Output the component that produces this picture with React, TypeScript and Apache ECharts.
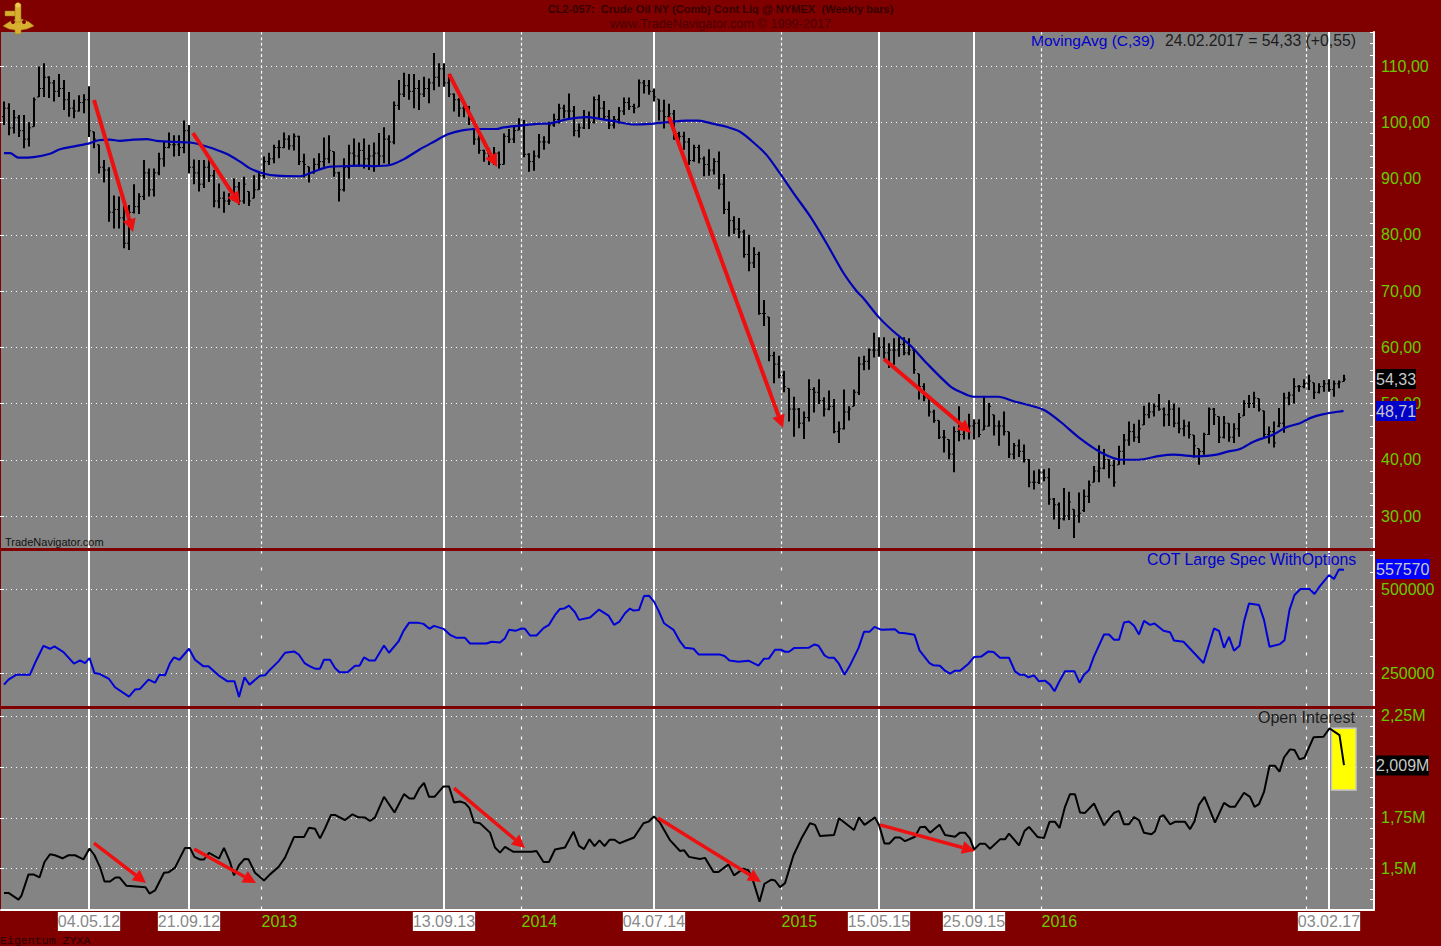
import React, { useEffect, useRef } from "react";
import * as echarts from "echarts";

const SERIES_START = Date.UTC(2012, 0, 6);
const WEEK_MS = 7 * 24 * 3600 * 1000;
const weekOf = (y: number, m: number, d: number) => (Date.UTC(y, m - 1, d) - SERIES_START) / WEEK_MS;

const highs = [103.7,103.4,102.2,101.3,101.3,100,104.4,109.9,110.5,108.2,107.5,108.6,107.5,105.4,104,104.8,105,106.4,98.3,96,93.3,92,87,86.8,85.5,85.3,89,87.4,93.3,91.8,91.8,94.6,96.5,98.2,97.7,97.7,100.3,99.5,93.4,93.3,93.3,93.6,91.5,89.1,87.7,87.4,90,89.4,90.3,87.7,90.6,91,93.9,94.6,96,96.8,98.2,97.7,98,97.6,94.4,92.1,93.6,94.5,97.3,97.7,94.8,91.2,93.6,96,97.1,96.4,97.1,96,96.4,98.1,99.1,97.7,103.7,107.5,108.8,108.6,108.6,107.5,108.1,107.8,112.3,110.5,110.5,108.6,105.1,104.3,103.4,102.9,98.9,97.7,95.1,95.4,95.6,94.8,98,98.8,99.5,100.7,100.4,94.5,95,97.9,97.5,100.1,101.5,103.3,103.1,105.1,102.9,99.8,102.2,101.9,104.6,104.9,103.8,102.2,101.1,102.7,104.4,104.4,103.3,107.6,107.5,107.5,106,104.1,104,103.3,102.2,98.3,98.3,97.2,96,96,93.9,95.2,93.6,94.8,90.8,85.9,83.3,83,80.9,80,77.8,77,68.4,65.4,59.2,58.5,55.8,52.7,51.2,49.2,48.6,54.3,52.9,54.3,51.1,52.3,50.8,46.8,52.5,49.5,52.5,58.3,58.5,59.8,62.6,61.8,61.8,60.7,61.6,61.8,61.8,61.6,59.5,55.3,53.6,50.9,48.9,47,45.3,43.6,45.9,49.5,46.5,48.2,47.2,47.2,51.1,50.1,48,47,48.6,45,43,43.6,42.7,40.1,38.1,38.3,38.3,38.5,33.2,32.4,35,34.3,31.2,34.2,34.7,36.3,38.9,42.6,41.9,40.1,40,42.5,44.6,46.8,46.4,47.1,49.6,50.2,50,51.7,49.3,50.6,50,49.3,47.1,46.8,44.4,42,44.8,49.3,49.2,47.7,47.8,46.5,46.5,48.3,50.6,51.5,52.1,50.9,48.7,45.9,46.8,49.2,51.9,52.1,54.5,53.3,54.3,55.1,53.7,53.6,54.2,54.3,54.1,54.1,55.1];
const lows = [99.5,97.7,98,97.4,95.4,95.7,99.2,104.5,104.5,104.3,103.7,104.5,102.2,101,100.7,101.9,101.6,97.4,95.4,90.9,89.3,82.3,81.1,81.1,77.6,77.3,83.8,83.7,86.2,86.8,86.8,90.6,92.1,95.4,93.9,94,94.5,90.9,89,87.7,88.3,89.4,84.9,84.7,83.9,85.3,86.2,85.3,85.5,85.1,86.5,88,90,92.4,92.7,93.6,95.4,95.1,95,92.4,90.2,89.3,90.9,91.5,92.1,92.7,90.3,85.9,87.7,90,92.4,92.1,91.8,91.5,91.2,92.4,92.7,92.6,96.1,102.2,104.5,104,102.5,102.2,104.5,103.4,105.7,106.3,106.3,104.5,101.9,101,100.9,99.5,96,94.4,93,92.4,92.4,91.8,92.5,96.3,96.3,98.6,93.8,91.2,91.4,93.6,95.1,96.2,99.2,99.8,100.7,100.4,97.5,97.3,98.8,98.8,99.8,100.7,100.4,98.8,98.9,99.8,101.3,102.2,101.6,102.7,105.1,104.9,103.7,100.3,98.9,99.8,96.9,95.7,95.1,92.4,93,92.7,90.4,90.5,90.7,88.1,83.7,79.7,80.2,79.4,75.9,73.5,74.1,65.8,63.8,57.5,53.6,54.5,52,46.8,44.1,45.6,43.7,46.8,48.4,49.9,47.7,48.8,44.7,43,45.4,47,49.5,51.5,55.9,56,58.2,58.3,58,56.3,56.9,58.3,58.6,58.6,55.3,50.7,50.4,47.7,46.6,43.7,41.3,40.1,37.8,43.3,43.6,43.6,43.6,44,45.3,45.9,44.3,42.5,44.3,40.3,40.1,40.5,39.5,35.1,34.7,35.7,36.2,32,29.4,27.7,29.2,29.3,26.1,28.8,30.7,32.3,36,36,38.3,36.7,35.2,39.1,39.1,42.5,43.2,43,46.2,47.4,47.7,48.7,45.9,46,45.8,44.7,44.2,43.8,40.4,39.1,40.9,44.4,46.2,43,43.8,43.2,43,44.1,47.8,49.2,49.2,48.6,43.8,42.9,42.2,45.8,44.8,49.7,50,52.1,52.7,52.4,50.8,51.8,52.1,52.1,51.2,52.7,53.9];
const closes = [102.5,99,100.8,98.5,97,99,104,106,108,107,105.5,106,104,102.5,102,103.5,104,98.5,97,92,91.5,84,84.5,83,78.5,84,85,86.8,91,88,91,93.5,95.5,96,96,95.5,98.5,92,91,89,92,90.5,86,86.5,86,86,88.5,86,89,86,88,90.5,93,93.5,95.5,95.5,97,95.8,97.5,93,92.5,91,92.5,93,93.5,95,91,88,92,94.5,94,95,93.5,94,94.5,94,97,96.5,103,105,106.5,105.5,106,105,106,107,108,109.5,107,105,104,102.5,102.5,100.5,97,95,94.5,93,94.5,92.5,97.5,97,98.5,99.5,94.3,93,94,96.5,96.5,99.5,100.5,102.5,102,102,98.5,99,101,100,104,102.5,101,99.5,100.5,102,103.5,102.8,102.5,107,106.5,105.5,104.5,102,101,101.5,98,97.5,96.5,93.2,95.5,93.5,92.5,91.5,93,89,84.5,82.5,81,80.5,76.5,75,76.5,66,66,58.5,57,55,53,49,49,46.5,47.5,52.5,52,50.5,49,49.5,45,45.5,48.5,49,52,57,57.5,59.5,59.5,60,59,59.5,59.5,60.5,59,59.5,56,53,51,48.5,47,44,44,41,45,44.5,45.5,46,46.5,44.5,46,49.5,46,46,45,41,42.5,41.5,40,36,36,37.8,36.8,33,32,29.5,30,32.5,30,30.5,33.5,35.5,38,38.5,40,39,36,41.5,43.5,45,44,45.5,48,48.5,49.5,49,48,49,46.5,45.5,46,44.5,42.5,41.5,44.5,49,48,44,46.5,44,45.5,47.5,50,50,51,49,44.5,45,43,46.5,51,51.5,53,53,53.5,54,52,53,53.5,52.5,53.5,53.8,54.33];
const opens = [101,102.5,99,100.8,98.5,97,99.2,104.5,106,108,107,105.5,106,104,102.5,102,103.5,104,98.3,96,92,91.5,84,84.5,83,78.5,84,85,86.8,91,88,91,93.5,95.5,96,96,95.5,98.5,92,91,89,92,90.5,86,86.5,86,86.2,88.5,86,87.7,86.5,88,90.5,93,93.5,95.5,95.5,97,95.8,97.5,93,92.1,91,92.5,93,93.5,94.8,91,88,92,94.5,94,95,93.5,94,94.5,94,97,96.5,103,105,106.5,105.5,106,105,106,107,108,109.5,107,105,104,102.5,102.5,98.9,97,95,94.5,93,94.5,92.5,97.5,97,98.6,99.5,94.3,93,94,96.5,96.5,99.5,100.5,102.5,102,102,98.5,99,101,100,104,102.5,101,99.5,100.5,102,103.5,102.8,102.7,107,106.5,105.5,104.1,102,101,101.5,98,97.5,96.5,93.2,95.5,93.5,92.5,91.5,93,89,84.5,82.5,81,80.5,76.5,75,76.5,66,65.4,58.5,57,55,52.7,49,49,46.5,47.5,52.5,52,50.5,49,49.5,45,45.5,48.5,49.5,52,57,57.5,59.5,59.5,60,59,59.5,59.5,60.5,59,59.5,55.3,53,50.9,48.5,47,44,43.6,41,45,44.5,45.5,46,46.5,45.3,46,48,46,46,45,41,42.5,41.5,40,36,36,37.8,36.8,33,32,29.5,30,31.2,30,31,33.5,36,38,38.5,40,39,39.1,41.5,43.5,45,44,46.2,48,48.5,49.5,49,48,49,46.5,45.5,46,44.4,42,41.5,44.5,49,47.7,44,46.5,44,45.5,47.8,50,50,50.9,48.7,44.5,45,46,46.5,51,51.5,53,53,53.5,53.7,52,53,53.5,52.5,53.5,53.9];

const movingAvg = [[0,94.5],[1.2,94.5],[2.9,93.7],[5.9,93.8],[9.2,94.4],[11.2,95.2],[14.5,95.8],[17.2,96.3],[18.9,96.8],[21.2,96.9],[23.2,96.7],[25.9,96.9],[28.5,97],[30.5,96.7],[33.9,96.5],[37.2,96.4],[40.5,95.7],[44.5,94.4],[47.2,93],[49.2,91.8],[51.9,90.9],[54.5,90.5],[59.2,90.4],[61.9,91.2],[65.2,92.1],[68.5,92.2],[71.2,92.3],[73.9,92.2],[77.2,92.4],[79.9,93.4],[83.2,95.2],[85.9,96.5],[88.9,97.9],[91.9,98.6],[95.2,98.8],[98.5,98.8],[99.9,99.1],[103.2,99.4],[106.5,99.7],[109.2,99.8],[112.5,100.5],[116.5,100.9],[119.2,100.6],[122.5,100.1],[125.9,99.6],[129.2,99.7],[132.5,100],[136.5,100.3],[138.9,100.3],[141.9,99.7],[144.5,99.2],[147.2,98.3],[149.9,96.4],[152.5,94.2],[155.2,90.9],[157.9,87.4],[161.2,83.3],[164.5,78.5],[167.9,73.2],[170.5,70],[171.8,68.8],[174.9,65.4],[177.9,62.8],[181.2,60.4],[184.5,57.2],[189.2,53.1],[191.2,52.1],[193.9,51.2],[198.9,51.2],[201.9,50.4],[207.9,48.9],[211.2,46.8],[215.2,43.8],[219.2,41.4],[223.5,40],[226.8,40],[231.2,40.7],[233.9,40.9],[238.9,40.6],[242.5,40.9],[244.5,41.4],[247.2,41.9],[249.9,43.2],[253.9,44.5],[256.5,45.8],[259.2,46.5],[261.2,47.4],[263.9,48.1],[267.9,48.7],[268,48.71]];

const cotLargeSpec = [[0,215400],[0.9,230200],[2.5,245100],[5.2,245100],[6.2,279600],[7.9,331000],[9.2,322100],[10.1,329000],[11.9,312200],[14,277700],[15.2,287500],[16.2,279600],[17.1,294500],[18.1,250000],[19.2,247000],[21,232200],[22.2,207500],[25,179900],[26.2,200600],[27.2,202600],[28.9,230200],[30.2,221300],[31.1,245100],[32.2,243100],[33.2,279600],[34,296400],[35.1,289500],[37,322100],[38.2,289500],[39.9,269800],[40.9,269800],[42.9,243100],[44.7,225300],[46.1,225300],[47,178900],[48.1,237200],[49.1,215400],[51.2,242100],[52.2,243100],[53.2,259900],[54.9,284600],[56.2,310300],[58,314200],[59,304300],[60.1,279600],[61.2,269800],[62.2,262800],[63.2,262800],[64,289500],[65.2,289500],[66.2,264800],[67.1,252000],[68.7,252000],[70.2,271700],[71.1,271700],[72,296400],[73,287500],[74.2,287500],[76,332000],[77,310300],[78.9,343900],[79.9,375500],[81,399200],[82.9,399200],[83.9,396200],[85.1,381400],[86,390300],[87.9,381400],[89.2,363600],[90.5,354700],[92.2,354700],[93.2,337900],[95.2,337900],[96.5,337900],[97.5,342900],[99.2,340900],[100.2,353700],[101,378400],[102.3,375500],[103.5,382400],[104.2,381400],[105.2,361600],[106.5,361600],[107.9,383400],[109,393300],[110.2,422900],[111.2,440700],[112,441700],[113,450600],[114.2,430800],[115,408100],[117.2,415000],[119,438700],[120.9,420900],[122,393300],[123.1,403100],[124.2,427800],[125.2,441700],[125.9,435700],[127,437700],[128,479200],[129,480200],[130,462400],[131,432800],[132,398200],[133.9,378400],[135.2,343900],[136.2,325100],[137.9,322100],[138.9,305300],[143.1,305300],[144.1,300400],[145.1,287500],[146.9,283600],[148.9,286600],[150.9,271700],[152,292500],[153,293500],[154.2,319200],[155.4,319200],[156.2,313200],[157,313200],[158,324100],[160.9,325100],[162.1,335000],[162.9,331000],[164.1,302400],[164.9,295400],[166,295400],[166.9,279600],[168.1,245100],[169.1,269800],[170.9,324100],[172,372500],[173.1,372500],[174.1,387300],[175.5,378400],[178.2,380400],[179,369500],[180.2,368600],[182.1,363600],[183.1,317200],[185.1,279600],[185.9,272700],[187.2,271700],[188.2,256900],[189.2,248000],[190.2,256900],[191.2,256900],[192.9,277700],[194,297400],[195.5,299400],[196.9,314200],[197.9,312200],[199.2,295400],[201,295400],[202.2,254900],[203.1,245100],[204,245100],[204.9,237200],[206,243100],[207,225300],[208.2,227300],[209.2,215400],[210.1,195700],[211,223300],[212.2,254900],[214.1,254900],[215.1,221300],[216,245100],[217,258900],[218,299400],[220,364600],[221,364600],[222,348800],[223,348800],[224,400200],[225,403100],[226,390300],[227,364600],[228,405100],[229.2,393300],[230.1,397200],[231.9,375500],[233.2,371500],[234,346800],[235.9,342900],[239.9,279600],[242,382400],[243,375500],[244,325100],[245,357700],[246,316200],[247.1,331000],[248,403100],[249,456500],[251,452500],[252,408100],[253.1,328100],[255.2,336000],[256.1,347800],[257.1,437700],[258.1,482200],[259.3,500000],[261.1,500000],[262.1,485100],[263.1,506900],[265,541500],[266,529600],[267,558300],[268,557570]];

const openInterest = [[0,1.381],[0.9,1.381],[2.9,1.348],[3.5,1.368],[4.9,1.472],[5.9,1.472],[7.1,1.457],[8.1,1.533],[9.2,1.571],[10.2,1.566],[11.7,1.551],[12.9,1.566],[14.2,1.566],[15.9,1.546],[17.1,1.599],[18.1,1.566],[19.2,1.508],[20.1,1.437],[21.2,1.437],[22.3,1.457],[23.1,1.457],[24.5,1.416],[28.3,1.409],[29.1,1.378],[30.2,1.393],[32,1.48],[32.9,1.482],[34.2,1.505],[36.2,1.602],[37.2,1.602],[38.1,1.558],[39.2,1.545],[40,1.545],[41,1.578],[43,1.55],[44,1.602],[45.2,1.533],[46,1.467],[47,1.517],[48.1,1.548],[48.9,1.546],[50.2,1.48],[52,1.442],[53.2,1.472],[54.9,1.508],[56.2,1.554],[58,1.655],[60,1.655],[61,1.701],[62.2,1.696],[63.2,1.649],[64.2,1.698],[65.4,1.764],[66.2,1.764],[68.2,1.739],[69.7,1.767],[70.9,1.752],[72.2,1.751],[73.2,1.734],[74.2,1.752],[76,1.853],[78.1,1.776],[80,1.866],[81.1,1.845],[82,1.845],[83.1,1.896],[84,1.921],[85,1.853],[86.1,1.853],[87.9,1.904],[89,1.904],[90,1.825],[91.2,1.83],[92.2,1.822],[93.1,1.797],[94,1.728],[95.2,1.723],[97.2,1.677],[98.2,1.604],[99.2,1.579],[100.2,1.607],[101.9,1.583],[105.5,1.583],[106.5,1.587],[107.9,1.533],[109,1.533],[110.2,1.594],[112.2,1.604],[113.9,1.682],[115,1.612],[116,1.596],[117.1,1.644],[118.1,1.611],[119.1,1.639],[120.1,1.611],[121.1,1.642],[122.1,1.642],[123.1,1.625],[126,1.653],[127.9,1.723],[128.9,1.731],[130,1.756],[131.2,1.726],[133.2,1.64],[135.2,1.587],[136,1.591],[137,1.558],[139.2,1.548],[140.2,1.553],[141.9,1.484],[142.9,1.484],[144.9,1.521],[146,1.467],[147.9,1.5],[148.9,1.492],[149.9,1.434],[151.1,1.338],[152.1,1.426],[153.5,1.446],[154.2,1.442],[155.2,1.409],[156.2,1.429],[157.9,1.566],[159.5,1.649],[161.2,1.723],[162.2,1.715],[163.2,1.66],[166,1.665],[167,1.748],[170,1.69],[171,1.752],[172.1,1.715],[174.2,1.752],[175,1.715],[176.1,1.624],[177.1,1.624],[178.2,1.653],[179.2,1.653],[180.2,1.635],[182.2,1.657],[183.2,1.703],[184.2,1.706],[185.2,1.677],[187.1,1.716],[188.2,1.665],[190.2,1.657],[191.2,1.677],[192.2,1.677],[193.2,1.648],[194,1.594],[195.2,1.623],[196.2,1.623],[197.2,1.598],[199.2,1.644],[200.2,1.644],[201,1.672],[203,1.615],[204.1,1.685],[205,1.705],[206.7,1.656],[208,1.651],[209.1,1.73],[210.2,1.73],[211.1,1.7],[212.2,1.804],[213.2,1.866],[214.2,1.866],[215.2,1.776],[216.2,1.774],[218,1.82],[220,1.713],[222,1.774],[223,1.784],[224,1.718],[225,1.718],[226,1.754],[227,1.738],[228,1.676],[229.5,1.669],[230.2,1.684],[231.2,1.754],[231.9,1.763],[233.2,1.718],[234.2,1.73],[236.2,1.73],[237.2,1.694],[238.1,1.733],[239,1.815],[240.1,1.853],[242.2,1.726],[244,1.823],[245.2,1.804],[246.2,1.804],[248,1.873],[249.2,1.853],[250.1,1.804],[251,1.817],[252,1.877],[253.1,2.005],[254.2,2.005],[255.1,1.976],[256,2.046],[257.2,2.086],[258.1,2.083],[259.1,2.037],[260.1,2.045],[261.9,2.145],[263.9,2.148],[265.1,2.189],[267.1,2.156],[268,2.009]];

const priceArrows = [[18,103.96,25.8,80.49],[37.8,98.09,47.2,85.29],[89,108.58,98.6,92.04],[133,100.93,155.8,45.64],[176,57.91,193.4,44.76]];
const oiArrows = [[18,1.626,28.4,1.43],[38,1.597,50.4,1.43],[90,1.896,104.2,1.602],[130.8,1.749,151.4,1.435],[175.2,1.715,194.2,1.587]];
const highlightBox = [[265.5,2.19,270.4,1.887]];

const markedDates: [string, number, number, number][] = [["04.05.12",2012,5,4],["21.09.12",2012,9,21],["13.09.13",2013,9,13],["04.07.14",2014,7,4],["15.05.15",2015,5,15],["25.09.15",2015,9,25],["03.02.17",2017,2,3]];
// year separators sit between the last bar of a year and the first of the next (in week numbers)
const yearBoundaryWeeks = [51.5, 103.5, 155.5, 207.5, 260.5];
const yearLabels = ["2013", "2014", "2015", "2016"];

const priceTicks = [30,40,50,60,70,80,90,100,110];
const cotTicks = [250000,500000];
const oiTicks = [1.5,1.75,2,2.25];
const oiLabelTicks = [1.5,1.75,2.25];

const FONT = "Liberation Sans, Arial, sans-serif";
const GREEN = "#66cc00";
const WMIN = -0.6, WMAX = 274;

function xAxisFor(gridIndex: number, show = false) {
  return {
    type: "value", gridIndex, min: WMIN, max: WMAX, show,
    axisLine: { show, onZero: false, lineStyle: { color: "#fff", width: 2 } },
    axisTick: { show: false }, axisLabel: { show: false }, splitLine: { show: false },
  };
}
function majorAxis(gridIndex: number, min: number, max: number, ticks: number[], labelTicks: number[], fmt: (v: number) => string) {
  return {
    type: "value", gridIndex, position: "right", min, max,
    axisLine: { show: false },
    axisTick: { show: true, inside: true, length: 8, customValues: ticks, lineStyle: { color: "#fff", width: 1 } },
    axisLabel: { show: true, inside: false, margin: 7, customValues: labelTicks, formatter: fmt, color: GREEN, fontFamily: FONT, fontSize: 16, showMinLabel: true, showMaxLabel: true },
    splitLine: { show: true, lineStyle: { color: "#fff", width: 1, type: [1, 4] } },
  };
}
function minorAxis(gridIndex: number, min: number, max: number, interval: number) {
  return {
    type: "value", gridIndex, position: "right", min, max, interval,
    axisLine: { show: false },
    axisTick: { show: true, inside: true, length: 4, lineStyle: { color: "#fff", width: 1 } },
    axisLabel: { show: false }, splitLine: { show: false },
  };
}

function yearLineSeries(gridIndex: number, yAxisIndex: number, yFrom: number, yTo: number, dash: number[]) {
  return {
    type: "custom", coordinateSystem: "cartesian2d", xAxisIndex: gridIndex, yAxisIndex, z: 1, silent: true, clip: false,
    data: yearBoundaryWeeks.map((w) => [w]),
    renderItem: (_p: any, api: any) => {
      const a = api.coord([api.value(0), yFrom]);
      const b = api.coord([api.value(0), yTo]);
      return { type: "line", shape: { x1: a[0], y1: a[1], x2: b[0], y2: b[1] }, style: { stroke: "#fff", lineWidth: 1.2, lineDash: dash } };
    },
  };
}

function arrowSeries(gridIndex: number, yAxisIndex: number, data: number[][], lineWidth: number) {
  return {
    type: "custom", coordinateSystem: "cartesian2d", xAxisIndex: gridIndex, yAxisIndex, z: 6, silent: true, clip: false,
    data,
    renderItem: (_p: any, api: any) => {
      const a = api.coord([api.value(0), api.value(1)]);
      const b = api.coord([api.value(2), api.value(3)]);
      const ang = Math.atan2(b[1] - a[1], b[0] - a[0]);
      const len = 13, hw = 6.5;
      const bx = b[0] - len * Math.cos(ang), by = b[1] - len * Math.sin(ang);
      const nx = -Math.sin(ang) * hw, ny = Math.cos(ang) * hw;
      return {
        type: "group",
        children: [
          { type: "line", shape: { x1: a[0], y1: a[1], x2: bx, y2: by }, style: { stroke: "#ee1010", lineWidth } },
          { type: "polygon", shape: { points: [[b[0], b[1]], [bx + nx, by + ny], [bx - nx, by - ny]] }, style: { fill: "#ee1010" } },
        ],
      };
    },
  };
}

const ohlcRows = highs.map((h, i) => [i, opens[i], h, lows[i], closes[i]]);

function buildOption(): any {
  const series: any[] = [
    // solid marker lines with their date labels
    {
      type: "custom", coordinateSystem: "cartesian2d", xAxisIndex: 0, yAxisIndex: 0, z: 1, silent: true, clip: false,
      data: markedDates.map((d) => [weekOf(d[1], d[2], d[3])]),
      renderItem: (p: any, api: any) => {
        const w = api.value(0);
        const a = api.coord([w, 0]);
        const b = api.coord([w, 1]);
        return {
          type: "group",
          children: [
            { type: "line", shape: { x1: a[0], y1: a[1], x2: b[0], y2: b[1] }, style: { stroke: "#fff", lineWidth: 2 } },
            { type: "text", style: { text: markedDates[p.dataIndex][0], x: a[0], y: a[1] + 12, align: "center", verticalAlign: "middle", fill: "#888", fontSize: 16, fontFamily: FONT, backgroundColor: "#fff", padding: [2, 0, 1, 0] } },
          ],
        };
      },
    },
    // green year labels
    {
      type: "custom", coordinateSystem: "cartesian2d", xAxisIndex: 0, yAxisIndex: 0, z: 1, silent: true, clip: false,
      data: yearLabels.map((_y, i) => [yearBoundaryWeeks[i]]),
      renderItem: (p: any, api: any) => {
        const a = api.coord([api.value(0), 0]);
        return { type: "text", style: { text: yearLabels[p.dataIndex], x: a[0], y: a[1] + 12, align: "left", verticalAlign: "middle", fill: GREEN, fontSize: 16, fontFamily: FONT } };
      },
    },
    yearLineSeries(1, 1, 24, 116, [3, 2.6]),
    yearLineSeries(2, 3, 150000, 612000, [3, 14]),
    yearLineSeries(3, 5, 1.3, 2.284, [3, 7]),
    // weekly OHLC bars
    {
      type: "custom", coordinateSystem: "cartesian2d", xAxisIndex: 1, yAxisIndex: 1, z: 3, silent: true,
      data: ohlcRows,
      encode: { x: 0, y: [1, 2, 3, 4] },
      renderItem: (_p: any, api: any) => {
        const w = api.value(0);
        const o = api.coord([w, api.value(1)]);
        const h = api.coord([w, api.value(2)]);
        const l = api.coord([w, api.value(3)]);
        const c = api.coord([w, api.value(4)]);
        const st = { stroke: "#000", lineWidth: 2 };
        const st2 = { stroke: "#000", lineWidth: 1 };
        return {
          type: "group",
          children: [
            { type: "line", shape: { x1: h[0], y1: h[1], x2: l[0], y2: l[1] }, style: st },
            { type: "line", shape: { x1: o[0] - 2, y1: o[1], x2: o[0], y2: o[1] }, style: st2 },
            { type: "line", shape: { x1: c[0], y1: c[1], x2: c[0] + 2, y2: c[1] }, style: st2 },
          ],
        };
      },
    },
    { type: "line", name: "MovingAvg (C,39)", xAxisIndex: 1, yAxisIndex: 1, data: movingAvg, showSymbol: false, smooth: 0.3, z: 4, lineStyle: { color: "#0000b4", width: 2.2 } },
    { type: "line", name: "COT Large Spec WithOptions", xAxisIndex: 2, yAxisIndex: 3, data: cotLargeSpec, showSymbol: false, smooth: false, z: 4, lineStyle: { color: "#0000d8", width: 2 } },
    {
      type: "custom", coordinateSystem: "cartesian2d", xAxisIndex: 3, yAxisIndex: 5, z: 2, silent: true,
      data: highlightBox,
      renderItem: (_p: any, api: any) => {
        const a = api.coord([api.value(0), api.value(1)]);
        const b = api.coord([api.value(2), api.value(3)]);
        return { type: "rect", shape: { x: a[0], y: a[1], width: b[0] - a[0], height: b[1] - a[1] }, style: { fill: "#ffff00", stroke: "#c8c8c8", lineWidth: 1.5 } };
      },
    },
    { type: "line", name: "Open Interest", xAxisIndex: 3, yAxisIndex: 5, data: openInterest, showSymbol: false, smooth: false, z: 4, lineStyle: { color: "#000", width: 2 } },
    arrowSeries(1, 1, priceArrows, 4),
    arrowSeries(3, 5, oiArrows, 3.5),
  ];

  const txt = (text: string, x: number, y: number, fill: string, fontSize: number, extra: any = {}) => ({
    type: "text", x, y, z: 30, silent: true,
    style: { text, fill, fontSize, fontFamily: FONT, verticalAlign: "middle", align: "left", ...extra },
  });
  const tag = (text: string, y: number, w: number, bg: string, fill: string) => ([
    { type: "rect", z: 29, silent: true, shape: { x: 1376, y: y - 10, width: w, height: 20 }, style: { fill: bg } },
    txt(text, 1376, y, fill, 16),
  ]);
  const gold = "#d8b030", goldDark = "#9a7a10";

  const graphic = [
    { type: "rect", z: 28, silent: true, shape: { x: 0, y: 548, width: 1376, height: 3 }, style: { fill: "#800000" } },
    { type: "rect", z: 28, silent: true, shape: { x: 0, y: 706, width: 1376, height: 3 }, style: { fill: "#800000" } },
    // sextant logo
    { type: "polygon", z: 30, silent: true, shape: { points: [[3,26],[9,22],[19,18],[29,22],[34,26],[27,29],[21,30],[21,34],[15,34],[15,30],[9,29]] }, style: { fill: gold, stroke: goldDark, lineWidth: 0.5 } },
    { type: "rect", z: 30, silent: true, shape: { x: 5, y: 11, width: 13, height: 5 }, style: { fill: gold, stroke: goldDark, lineWidth: 0.5 } },
    { type: "rect", z: 30, silent: true, shape: { x: 15, y: 4, width: 6, height: 18 }, style: { fill: gold, stroke: goldDark, lineWidth: 0.5 } },
    { type: "circle", z: 30, silent: true, shape: { cx: 18, cy: 5, r: 2.5 }, style: { fill: "#eec850" } },
    { type: "circle", z: 30, silent: true, shape: { cx: 13, cy: 22, r: 2 }, style: { fill: "#800000" } },
    { type: "circle", z: 30, silent: true, shape: { cx: 24, cy: 22, r: 2 }, style: { fill: "#800000" } },
    txt("CL2-057:  Crude Oil NY (Comb) Cont Liq @ NYMEX  (Weekly bars)", 720.5, 9, "#360000", 11.1, { align: "center", fontWeight: "bold" }),
    txt("www.TradeNavigator.com © 1999-2017", 720.5, 24, "#4a0000", 12.7, { align: "center" }),
    txt("MovingAvg (C,39)", 1031, 40, "#0000cc", 15.5),
    txt("24.02.2017 = 54,33 (+0,55)", 1165, 40, "#1c1c1c", 15.75),
    txt("TradeNavigator.com", 5, 542, "#111", 11),
    txt("COT Large Spec WithOptions", 1147, 559, "#0000cc", 15.85),
    txt("Open Interest", 1258, 717, "#1c1c1c", 16),
    txt("Eigentum ZYXA", 0, 940, "#2a0000", 11.6, { fontFamily: "Liberation Mono, monospace" }),
    ...tag("54,33", 379, 40, "#000", "#c8c8c8"),
    ...tag("48,71", 411, 40, "#0000c8", "#c8c8c8"),
    ...tag("557570", 569, 54, "#0000ff", "#c8c8c8"),
    ...tag("2,009M", 765.5, 53, "#000", "#c8c8c8"),
  ];

  const comma = (v: number) => v.toFixed(2).replace(".", ",");
  return {
    animation: false,
    backgroundColor: "#800000",
    tooltip: { show: false },
    grid: [
      { left: 1, top: 32, width: 1373, height: 877.5, show: true, backgroundColor: "#848484", borderWidth: 0 },
      { left: 1, top: 32.25, width: 1373, height: 517.5 },
      { left: 1, top: 555.4, width: 1373, height: 151.2 },
      { left: 1, top: 705.8, width: 1373, height: 203.6 },
    ],
    xAxis: [xAxisFor(0, true), xAxisFor(1), xAxisFor(2), xAxisFor(3)],
    yAxis: [
      { type: "value", gridIndex: 0, position: "right", min: 0, max: 1, axisLine: { show: true, onZero: false, lineStyle: { color: "#fff", width: 2 } }, axisTick: { show: false }, axisLabel: { show: false }, splitLine: { show: false } },
      majorAxis(1, 24, 116, priceTicks, priceTicks, comma),
      minorAxis(1, 24, 116, 2),
      majorAxis(2, 150000, 600000, cotTicks, cotTicks, (v) => String(v)),
      minorAxis(2, 150000, 600000, 50000),
      majorAxis(3, 1.3, 2.3, oiTicks, oiLabelTicks, (v) => String(v).replace(".", ",") + "M"),
      minorAxis(3, 1.3, 2.3, 0.05),
    ],
    series,
    graphic: { elements: graphic },
  };
}

export default function App() {
  const ref = useRef<HTMLDivElement>(null);
  useEffect(() => {
    document.body.style.margin = "0";
    document.body.style.overflow = "hidden";
    const chart = echarts.init(ref.current!, undefined, { renderer: "svg" });
    chart.setOption(buildOption());
    return () => chart.dispose();
  }, []);
  return <div ref={ref} style={{ width: 1441, height: 946 }} />;
}
